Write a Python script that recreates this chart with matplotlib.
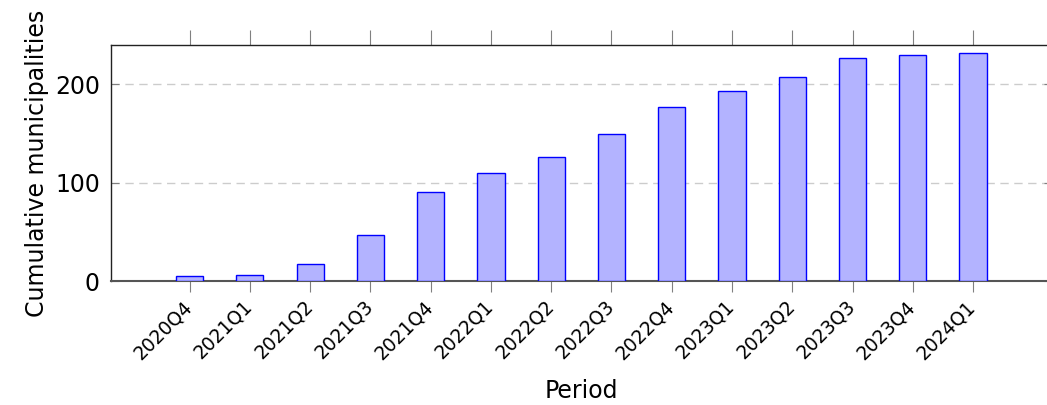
import matplotlib.pyplot as plt
import matplotlib.transforms as mtransforms
import numpy as np

periods = ['2020Q4', '2021Q1', '2021Q2', '2021Q3', '2021Q4', '2022Q1', '2022Q2',
           '2022Q3', '2022Q4', '2023Q1', '2023Q2', '2023Q3', '2023Q4', '2024Q1']
cumulative = [6, 7, 18, 47, 91, 110, 126, 149, 177, 193, 207, 226, 229, 231]
y_ticks = [0, 100, 200]

plt.rcParams['font.family'] = 'DejaVu Sans'

fig = plt.figure(figsize=(10.47, 4.05), dpi=100)
ax = fig.add_axes([0.106, 0.305, 0.8985, 0.585])

x = np.arange(len(periods))
ax.bar(x, cumulative, width=0.45, color='#b3b3ff', edgecolor='#0000ff', linewidth=1.0, zorder=3)

ax.set_xlim(-1.306, 14.306)
ax.set_ylim(0, 240)

# grid only at major y ticks
ax.set_yticks(y_ticks)
ax.yaxis.grid(True, color='#cccccc', linestyle=(0, (6, 4)), linewidth=1.0, zorder=0)
ax.tick_params(axis='y', direction='in', length=6, color='#808080', labelsize=17,
               left=True, right=True, pad=8)

ax.set_xticks(x)
ax.set_xticklabels(periods, rotation=45, ha='right', rotation_mode='anchor', fontsize=13.5)
ax.tick_params(axis='x', direction='out', length=8, color='#808080', pad=3)
# nudge rotated labels a bit left, like the reference
shift = mtransforms.ScaledTranslation(-7 / 100, 0, fig.dpi_scale_trans)
for lbl in ax.get_xticklabels():
    lbl.set_transform(lbl.get_transform() + shift)

top = ax.secondary_xaxis('top')
top.set_xticks(x)
top.set_xticklabels([])
top.tick_params(direction='out', length=11, color='#808080')
top.spines['top'].set_visible(False)

for s in ['left', 'top', 'right']:
    ax.spines[s].set_color('#222222')
    ax.spines[s].set_linewidth(1.0)
ax.spines['bottom'].set_color('#555555')
ax.spines['bottom'].set_linewidth(1.5)

ax.set_xlabel('Period', fontsize=17, labelpad=12)
ax.set_ylabel('Cumulative municipalities', fontsize=17, labelpad=4)

plt.savefig('out.png', dpi=100)
plt.close()
